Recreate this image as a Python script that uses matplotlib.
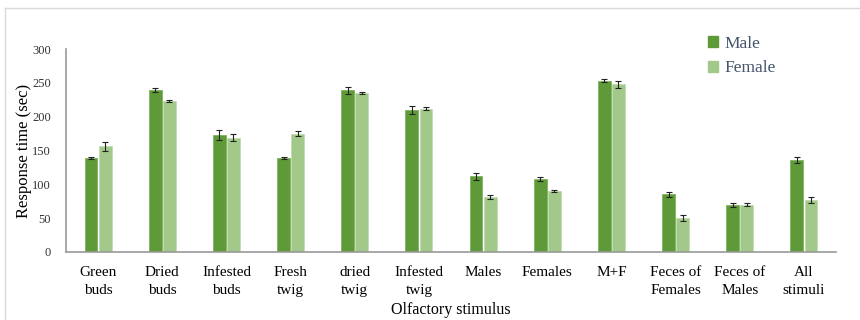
import matplotlib.pyplot as plt
import numpy as np
from matplotlib.lines import Line2D

categories = ['Green\nbuds', 'Dried\nbuds', 'Infested\nbuds', 'Fresh\ntwig', 'dried\ntwig',
              'Infested\ntwig', 'Males', 'Females', 'M+F', 'Feces of\nFemales',
              'Feces of\nMales', 'All\nstimuli']
male = [139, 240, 173, 139, 239, 210, 112, 108, 253, 85, 69, 136]
male_err = [2, 3, 7, 2, 5, 6, 5, 3, 2, 4, 3, 4]
female = [156, 223, 169, 175, 235, 212, 81, 90, 248, 50, 70, 77]
female_err = [6, 2, 5, 4, 2, 2, 3, 2, 5, 4, 2, 5]

plt.rcParams['font.family'] = ['Liberation Serif', 'DejaVu Serif']

fig = plt.figure(figsize=(8.6, 3.2), dpi=100)
ax = fig.add_axes([66 / 860, 1 - 252 / 320, 770 / 860, 203 / 320])

x = np.arange(len(categories))
w = 0.2
c_male = '#5e9b38'
c_female = '#a3c98a'
ax.bar(x - 0.11, male, w, yerr=male_err, color=c_male, edgecolor='#7fb35f', linewidth=0.6,
       capsize=2.5, error_kw=dict(elinewidth=0.8, capthick=0.8, ecolor='#222222'), label='Male')
ax.bar(x + 0.11, female, w, yerr=female_err, color=c_female, edgecolor='#c0dcae', linewidth=0.6,
       capsize=2.5, error_kw=dict(elinewidth=0.8, capthick=0.8, ecolor='#222222'), label='Female')

ax.set_xlim(-0.5, len(categories) - 0.5)
ax.set_ylim(0, 300)
ax.set_yticks(range(0, 301, 50))
ax.set_xticks(x)
ax.set_xticklabels(categories, fontsize=11, linespacing=1.55)
ax.tick_params(axis='both', length=0)
ax.tick_params(axis='y', labelsize=9, pad=11, labelcolor='#333333')
ax.tick_params(axis='x', pad=10)
for s in ['top', 'right']:
    ax.spines[s].set_visible(False)
ax.spines['left'].set_color('#999999')
ax.spines['bottom'].set_color('#999999')
ax.spines['left'].set_linewidth(1.2)
ax.spines['bottom'].set_linewidth(1.2)

ax.set_ylabel('Response time (sec)', fontsize=12, labelpad=0)
ax.set_xlabel('Olfactory stimulus', fontsize=11.5, labelpad=3)

handles = [plt.Rectangle((0, 0), 1, 1, color=c_male), plt.Rectangle((0, 0), 1, 1, color=c_female)]
leg = fig.legend(handles, ['Male', 'Female'], loc='upper left', bbox_to_anchor=(692 / 860, 1 - 20 / 320),
                 frameon=False, fontsize=12.5, handlelength=0.6, handleheight=0.6, handletextpad=0.35,
                 labelspacing=0.5, labelcolor='#44546a')

# light chart frame
fig.add_artist(Line2D([5 / 860, 1], [1 - 8 / 320, 1 - 8 / 320], color='#d9d9d9', lw=1))
fig.add_artist(Line2D([5 / 860, 5 / 860], [0, 1 - 8 / 320], color='#d9d9d9', lw=1))

fig.savefig('out.png', dpi=100)
